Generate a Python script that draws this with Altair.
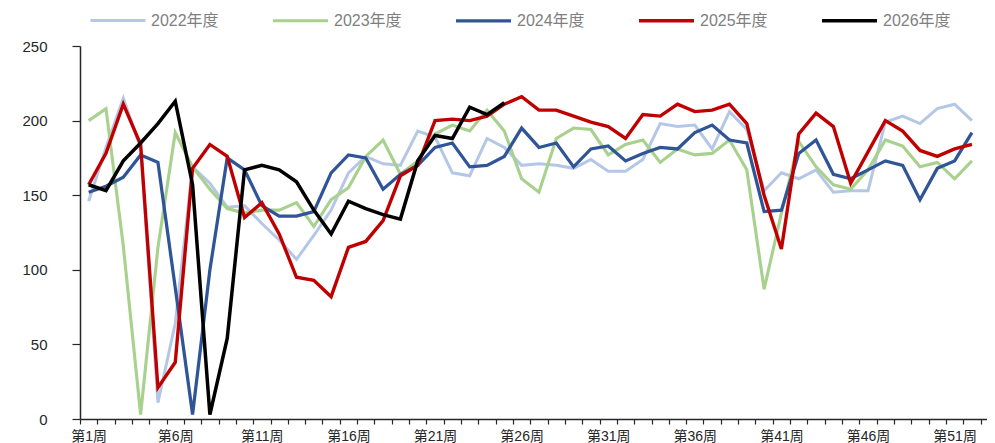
import altair as alt
import pandas as pd

years = ["2022年度", "2023年度", "2024年度", "2025年度", "2026年度"]
colors = ["#b4c7e7", "#a9d18e", "#2f5597", "#c00000", "#000000"]
widths = [3, 3.5, 3, 3.5, 3]

v2022 = [146, 182, 215, 182, 11, 64, 169, 158, 142, 143, 131, 120, 107, 123, 140, 165, 176, 171, 170, 193,
         189, 165, 163, 188, 182, 170, 171, 170, 168, 174, 166, 166, 174, 198, 196, 197, 181, 206, 194, 153,
         165, 161, 167, 152, 153, 153, 199, 203, 198, 208, 211, 200]
v2023 = [200, 208, 116, 3, 115, 192, 169, 154, 141, 138, 140, 140, 145, 129, 147, 155, 176, 187, 164, 173,
         191, 197, 193, 207, 193, 161, 152, 188, 195, 194, 177, 184, 187, 172, 181, 177, 178, 187, 167, 87,
         138, 186, 169, 157, 154, 167, 187, 183, 169, 172, 161, 173]
v2024 = [152, 156, 162, 177, 172, 88, 3, 100, 175, 167, 143, 136, 136, 139, 165, 177, 175, 154, 164, 170,
         182, 185, 169, 170, 176, 195, 182, 185, 169, 181, 183, 173, 178, 182, 181, 192, 197, 187, 185, 139,
         140, 178, 187, 164, 161, 167, 173, 170, 147, 168, 173, 192]
v2025 = [157, 178, 211, 184, 21, 38, 168, 184, 176, 135, 145, 124, 95, 93, 82, 115, 119, 133, 163, 170,
         200, 201, 200, 203, 211, 216, 207, 207, 203, 199, 196, 188, 204, 203, 211, 206, 207, 211, 198, 150,
         114, 191, 205, 196, 158, 179, 200, 193, 180, 176, 181, 184]
v2026 = [157, 153, 173, 185, 198, 213, 157, 3, 54, 167, 170, 167, 159, 140, 124, 146, 141, 137, 134, 173,
         190, 188, 209, 204, 212]

series = [v2022, v2023, v2024, v2025, v2026]
label_weeks = [1, 6, 11, 16, 21, 26, 31, 36, 41, 46, 51]

rows = []
for yr, vals in zip(years, series):
    for i, v in enumerate(vals):
        rows.append({"week": i + 1, "value": v, "year": yr})
df = pd.DataFrame(rows)

tick_vals = [k + 0.5 for k in range(53)]
font = "Liberation Sans, Noto Sans CJK SC, sans-serif"
xscale = alt.Scale(domain=[0.5, 52.87], nice=False, zero=False)
yscale = alt.Scale(domain=[0, 250], nice=False)
axc = "#262626"

lines = alt.Chart(df).mark_line(strokeJoin="miter", strokeCap="butt").encode(
    x=alt.X("week:Q", scale=xscale,
            axis=alt.Axis(values=tick_vals, title=None, grid=False, labels=False, orient="bottom",
                          tickSize=5, domainColor=axc, tickColor=axc,
                          domainWidth=1.5, tickWidth=1.2)),
    y=alt.Y("value:Q", scale=yscale,
            axis=alt.Axis(values=[0, 50, 100, 150, 200, 250], title=None, grid=False, orient="left",
                          tickSize=8, labelPadding=25, labelFontSize=15, labelFont=font,
                          labelColor=axc, domainColor=axc, tickColor=axc,
                          domainWidth=1.5, tickWidth=1.2)),
    color=alt.Color("year:N",
                    scale=alt.Scale(domain=years, range=colors),
                    legend=alt.Legend(orient="none", direction="horizontal", title=None,
                                      legendX=9, legendY=-55, symbolType="stroke",
                                      symbolSize=3025, symbolStrokeWidth=3,
                                      labelFontSize=16, labelFont=font, labelColor="#7f7f7f",
                                      labelOffset=4, columnPadding=47, padding=0)),
    strokeWidth=alt.StrokeWidth("year:N",
                                scale=alt.Scale(domain=years, range=widths),
                                legend=None),
    detail="year:N",
)

labels = alt.Chart(df).mark_point(opacity=0).encode(
    x=alt.X("week:Q", scale=xscale,
            axis=alt.Axis(values=label_weeks, title=None, grid=False, orient="bottom",
                          ticks=False, domain=False, labelPadding=10, labelFlush=False,
                          labelOverlap=False, labelFontSize=14, labelFont=font, labelColor=axc,
                          labelExpr="'第' + datum.value + '周'")),
    y=alt.Y("value:Q", scale=yscale,
            axis=alt.Axis(values=[0], orient="right", labels=False, ticks=False, domain=False,
                          grid=False, title=None)),
)

chart = alt.layer(lines, labels).resolve_axis(x="independent", y="independent").properties(
    width=907, height=373,
    autosize=alt.AutoSizeParams(type="none"),
    padding={"left": 72, "top": 38, "right": 0, "bottom": 24},
).configure_view(stroke=None)

chart.save("out.html", embed_options={"renderer": "svg", "actions": False})
